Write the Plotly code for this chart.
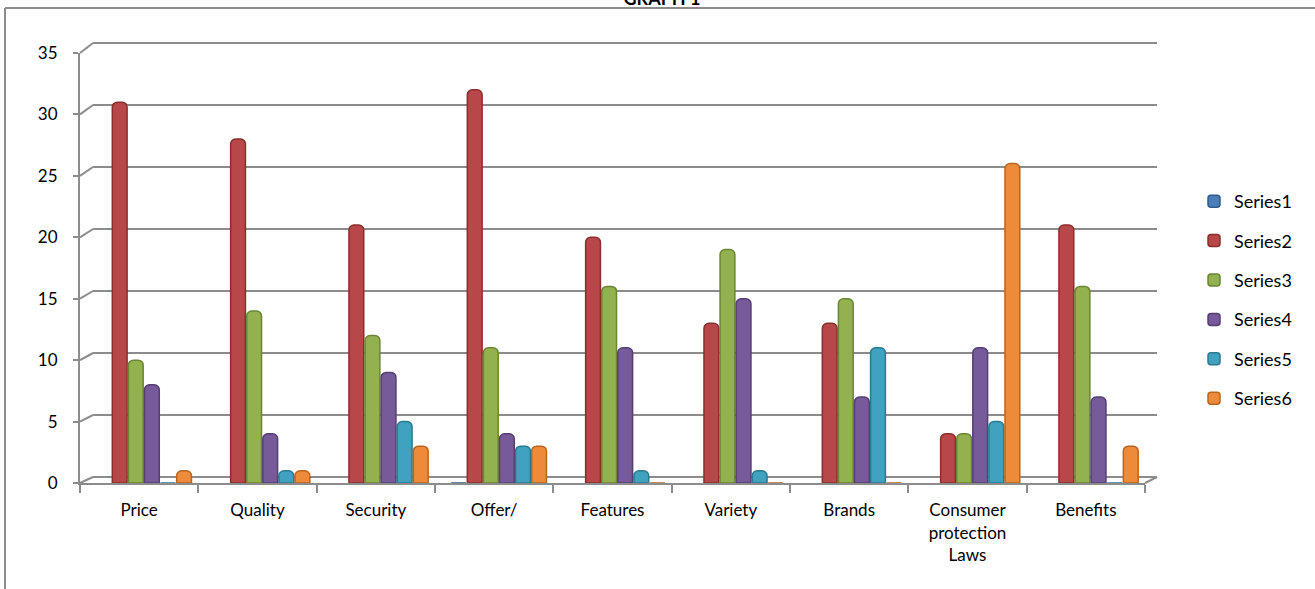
import plotly.graph_objects as go

# ---- data ----
categories = ["Price", "Quality", "Security", "Offer/", "Features", "Variety",
              "Brands", "Consumer<br>protection<br>Laws", "Benefits"]
series_names = ["Series1", "Series2", "Series3", "Series4", "Series5", "Series6"]
series1 = [None, None, None, 0, None, None, None, None, None]
series2 = [31, 28, 21, 32, 20, 13, 13, 4, 21]
series3 = [10, 14, 12, 11, 16, 19, 15, 4, 16]
series4 = [8, 4, 9, 4, 11, 15, 7, 11, 7]
series5 = [0, 1, 5, 3, 1, 1, 11, 5, 0]
series6 = [1, 1, 3, 3, 0, 0, 0, 26, 3]
y_ticks = [0, 5, 10, 15, 20, 25, 30, 35]

colors = ["#4A7EBB", "#B8474A", "#93B14F", "#775A99", "#40A2BE", "#EE8B3A"]
edge_colors = ["#2F5A8C", "#8A2E2C", "#6A8634", "#553F73", "#2A7A90", "#B8651F"]
all_series = [series1, series2, series3, series4, series5, series6]

W, H = 1315, 589
FONT = "Lato"
GRID = "#8c8c8c"


def px_x(p):
    return p / W


def px_y(p):
    return 1 - p / H


# front (bars / labels) and back (grid wall) geometry in pixels
FRONT_X = (80, 1145)
FRONT_Y = (483, 53)   # pixel of value 0, value 35
BACK_X = (93, 1157)
BACK_Y = (477, 43)
YMAX = 35
PAD = 0.1  # small range padding so edge gridlines are drawn
back_scale = (BACK_Y[0] - BACK_Y[1]) / YMAX

fig = go.Figure()

# helper trace so the back-wall grid subplot is drawn (no visible marks)
fig.add_trace(go.Scatter(x=[None], y=[None], xaxis="x", yaxis="y",
                         showlegend=False, hoverinfo="skip", mode="markers"))

pitch = 0.136
bw = 0.125
shift = 0.045
for i, (name, vals) in enumerate(zip(series_names, all_series)):
    fig.add_trace(go.Bar(
        x=categories, y=vals, name=name,
        xaxis="x2", yaxis="y2",
        marker=dict(color=colors[i], line=dict(width=1.5, color=edge_colors[i]),
                    cornerradius=5),
        width=bw,
        offset=-3 * pitch + i * pitch + shift,
        legendgroup=name,
    ))

shapes = []
# left wall diagonals (front axis tick -> back gridline)
for v in y_ticks:
    yf = px_y(FRONT_Y[0] + (FRONT_Y[1] - FRONT_Y[0]) * v / YMAX)
    yb = px_y(BACK_Y[0] + (BACK_Y[1] - BACK_Y[0]) * v / YMAX)
    shapes.append(dict(type="line", xref="paper", yref="paper",
                       x0=px_x(FRONT_X[0]), y0=yf, x1=px_x(BACK_X[0]), y1=yb,
                       line=dict(color=GRID, width=2)))
# right floor diagonal
shapes.append(dict(type="line", xref="paper", yref="paper",
                   x0=px_x(FRONT_X[1]), y0=px_y(FRONT_Y[0]),
                   x1=px_x(BACK_X[1]), y1=px_y(BACK_Y[0]),
                   line=dict(color=GRID, width=2)))
# chart frame (left + top)
shapes.append(dict(type="line", xref="paper", yref="paper",
                   x0=px_x(5), y0=px_y(8), x1=px_x(5), y1=0,
                   line=dict(color=GRID, width=2)))
shapes.append(dict(type="line", xref="paper", yref="paper",
                   x0=px_x(5), y0=px_y(8), x1=1, y1=px_y(8),
                   line=dict(color=GRID, width=2)))

fig.update_layout(
    width=W, height=H, autosize=False,
    margin=dict(l=0, r=0, t=0, b=0, autoexpand=False),
    paper_bgcolor="white",
    plot_bgcolor="rgba(0,0,0,0)",
    font=dict(family=FONT, size=17, color="#000000"),
    barmode="overlay",
    showlegend=True,
    title=dict(text="<b>GRAPH 1</b>", xref="container", yref="container",
               x=px_x(662), y=px_y(5), xanchor="center", yanchor="bottom",
               automargin=False,
               font=dict(family=FONT, size=18, color="#000000")),
    legend=dict(x=px_x(1194), y=px_y(183), xanchor="left", yanchor="top",
                font=dict(family=FONT, size=18, color="#000000"),
                tracegroupgap=13, itemwidth=30, bgcolor="rgba(0,0,0,0)"),
    # back wall grid
    xaxis=dict(domain=[px_x(BACK_X[0]), px_x(BACK_X[1])], range=[0, 1],
               showgrid=False, zeroline=False, showline=False,
               showticklabels=False, ticks="", anchor="y", fixedrange=True),
    yaxis=dict(domain=[px_y(BACK_Y[0] + PAD * back_scale),
                       px_y(BACK_Y[1] - PAD * back_scale)],
               range=[-PAD, YMAX + PAD],
               tickvals=y_ticks, showgrid=True, gridcolor=GRID, gridwidth=2,
               zeroline=False, showline=False, showticklabels=False, ticks="",
               anchor="x", fixedrange=True),
    # front axes with bars
    xaxis2=dict(domain=[px_x(FRONT_X[0]), px_x(FRONT_X[1])], anchor="y2",
                type="category", range=[-0.5, len(categories) - 0.5],
                showgrid=False, zeroline=False, showline=True,
                linecolor=GRID, linewidth=2,
                ticks="outside", tickson="boundaries", ticklen=8,
                tickcolor=GRID, tickwidth=2, ticklabelstandoff=11,
                tickfont=dict(family=FONT, size=17, color="#000000"),
                fixedrange=True),
    yaxis2=dict(domain=[px_y(FRONT_Y[0]), px_y(FRONT_Y[1])], anchor="x2",
                range=[0, YMAX], tickvals=y_ticks,
                showgrid=False, zeroline=False, showline=True,
                linecolor=GRID, linewidth=2,
                ticks="outside", ticklen=5, tickcolor=GRID, tickwidth=2,
                ticklabelstandoff=12,
                tickfont=dict(family=FONT, size=17, color="#000000"),
                fixedrange=True),
    shapes=shapes,
)

fig.write_html("out.html")
